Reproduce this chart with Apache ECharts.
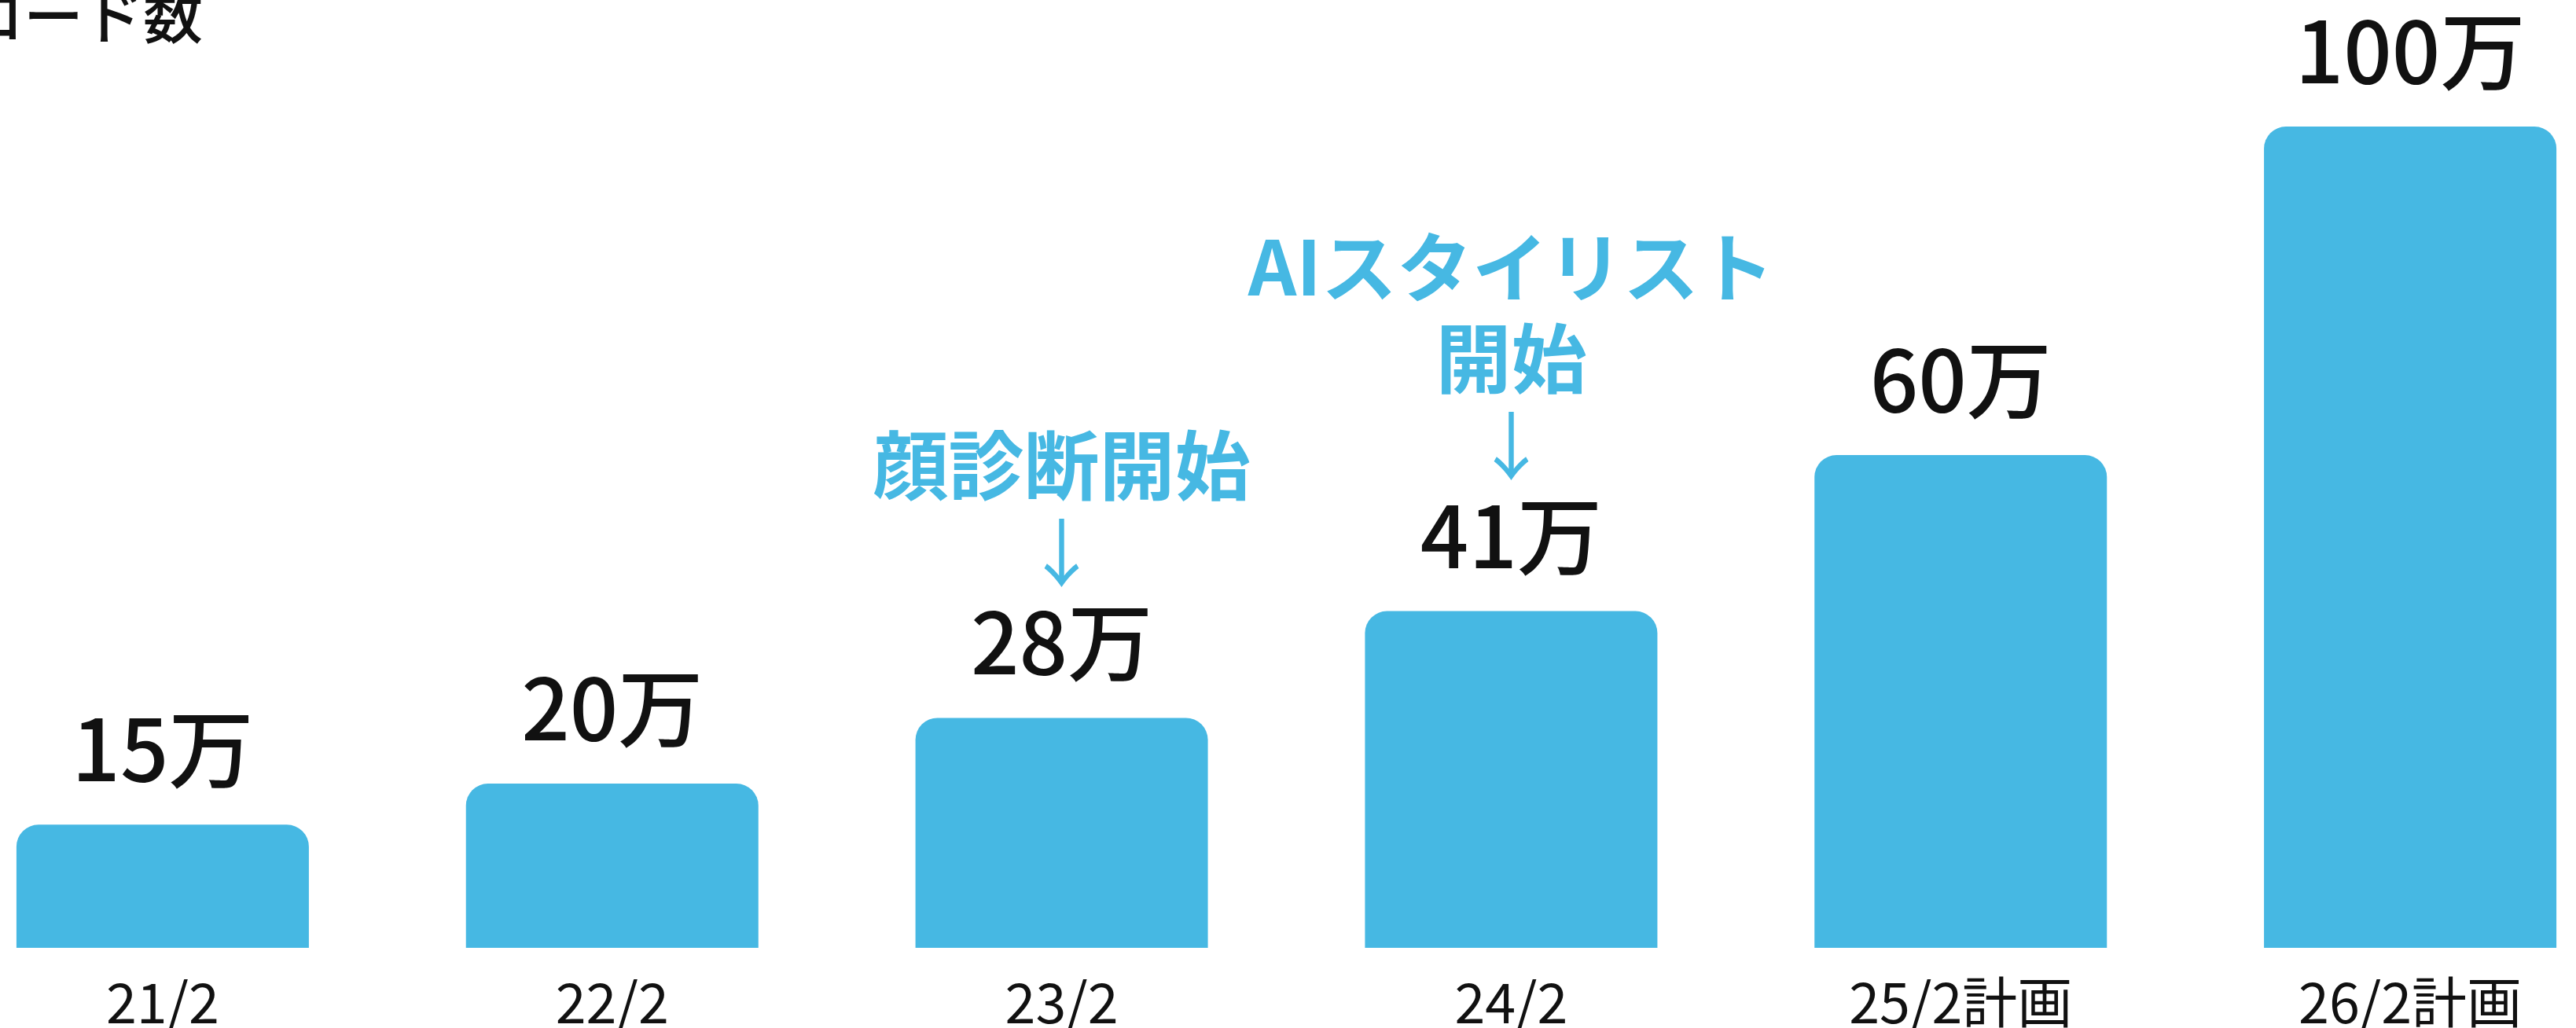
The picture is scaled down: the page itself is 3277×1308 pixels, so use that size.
<!DOCTYPE html>
<html>
<head>
<meta charset="utf-8">
<script src="https://cdn.jsdelivr.net/npm/echarts@6/dist/echarts.min.js"></script>
<style>
  html, body { margin: 0; padding: 0; background: #fff; }
  #chart { width: 3277px; height: 1308px; }
</style>
</head>
<body>
<div id="chart"></div>
<script>
var categories = ['21/2', '22/2', '23/2', '24/2', '25/2計画', '26/2計画'];
var values = [15, 20, 28, 41, 60, 100];
var notes = ['', '', '顔診断開始', 'AIスタイリスト\n開始', '', ''];
var unit = '万';

var blue = '#46b8e3';
var font = '"Noto Sans CJK JP", "Noto Sans", sans-serif';

function labelText(i) {
    var s = '';
    if (notes[i]) {
        var lines = notes[i].split('\n');
        for (var k = 0; k < lines.length; k++) {
            s += '{a|' + lines[k] + '}\n';
        }
        s += '{r|↓}\n';
    }
    return s + '{v|' + values[i] + unit + '}';
}

function madeChart() {
    var myChart = echarts.init(document.getElementById('chart'));

    var option = {
        backgroundColor: '#fff',
        animation: false,
        grid: {
            left: -79,
            width: 3431,
            top: 161,
            bottom: 102,
            containLabel: false,
            outerBoundsMode: 'none'
        },
        xAxis: {
            type: 'category',
            data: categories,
            axisLine: { show: false },
            axisTick: { show: false },
            axisLabel: {
                color: '#111',
                fontFamily: font,
                fontSize: 70,
                margin: 34
            }
        },
        yAxis: {
            type: 'value',
            min: 0,
            max: 100,
            show: false,
            splitLine: { show: false }
        },
        series: [{
            type: 'bar',
            data: values,
            barWidth: 372,
            itemStyle: {
                color: blue,
                borderRadius: [28, 28, 0, 0]
            },
            label: {
                show: true,
                position: 'top',
                distance: 36,
                align: 'center',
                formatter: function (p) { return labelText(p.dataIndex); },
                rich: {
                    v: { fontFamily: font, fontSize: 108, fontWeight: 500, color: '#111', lineHeight: 120 },
                    a: { fontFamily: font, fontSize: 96, fontWeight: 'bold', color: blue, lineHeight: 116 },
                    r: { fontFamily: font, fontSize: 94, color: blue, lineHeight: 108 }
                }
            }
        }],
        graphic: [{
            type: 'text',
            x: 258,
            y: 58,
            style: {
                text: 'ダウンロード数',
                fontFamily: font,
                fontSize: 76,
                fontWeight: 500,
                fill: '#111',
                textAlign: 'right',
                textVerticalAlign: 'bottom'
            }
        }]
    };

    myChart.setOption(option);
}

madeChart();
</script>
</body>
</html>
